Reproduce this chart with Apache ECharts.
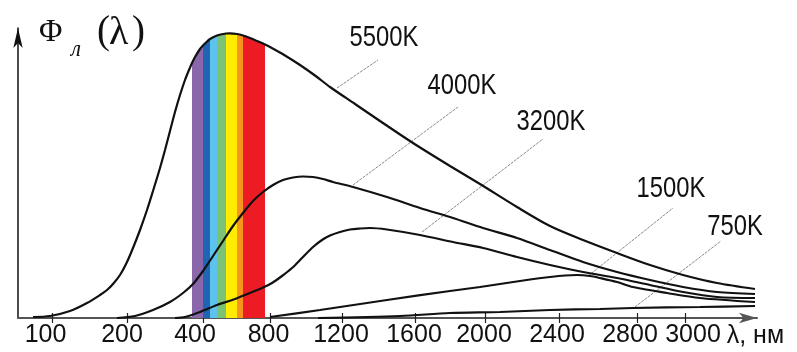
<!DOCTYPE html>
<html><head><meta charset="utf-8">
<script src="https://cdn.jsdelivr.net/npm/echarts@6/dist/echarts.min.js"></script>
<style>html,body{margin:0;padding:0;background:#fff}#c{width:797px;height:352px}</style>
</head><body><div id="c"></div>
<script>
// x axis is a schematic (non-linear) wavelength axis: values are positions along it
const tickLabels = ['100','200','400','800','1200','1600','2000','2400','2800','3000'];
const tickPos = [34,109,185,252,324,397,467,541,619,667];
const labelPos = [27.5,104,177,250.5,323,396,466,539,612,675];

const curve5500 = [[15,1],[32,2],[52,7],[69,15],[82,23],[89,28],[95,34],[102,43],[109,56],[115,70],[122,88],[129,108],[135,127],[142,150],[147,168],[152,187],[157,206],[162,223],[167,238],[171,248],[174,255],[177,261],[182,269],[185,272.5],[188,275.5],[192,279],[199,282.5],[208,284.5],[212,284.7],[219,284],[225,282.5],[232,280],[239,277],[247,273.5],[252,271],[267,262.5],[282,253],[297,242.5],[312,231],[337,214],[362,197],[395,175],[432,152],[462,134],[499,111],[532,92],[565,78],[599,65],[632,53],[665,43],[699,35],[737,29]];
const curve4000 = [[99,0],[117,2],[135,8],[152,16],[165,25],[175,34],[185,47],[195,62],[205,77],[215,92],[225,105],[235,117],[245,126],[255,133],[265,138],[275,140.5],[285,141.5],[295,141],[305,139],[315,136],[335,131],[369,121],[402,110],[435,100],[465,90],[499,80],[532,68],[565,56],[599,46],[632,38],[665,31],[699,26],[737,24]];
const curve3200 = [[157,0],[167,1],[182,6],[199,13],[217,19],[232,25],[244,30],[254,35],[264,42],[274,50],[284,60],[295,71],[304,78],[312,82.5],[322,86],[332,88.5],[342,89.5],[352,90],[369,88.5],[402,83],[435,76],[465,70],[499,61],[532,53],[565,46],[599,40],[632,33],[665,26],[699,21],[737,20]];
const curve1500 = [[252,1],[302,8],[369,18],[432,27],[462,31],[482,34],[512,38.5],[532,41],[547,42.5],[559,43],[572,42],[582,40],[599,36],[615,31],[649,25],[682,20],[737,16]];
const curve750 = [[300,0],[382,2],[432,5],[482,6],[532,8],[582,9],[615,10],[682,11],[737,12]];

const curveNames = ['5500K','4000K','3200K','1500K','750K'];
const leaderFrom = [[319,230],[335,133],[404,86],[570,42],[617,11]];
const leaderTo = [[360,258],[440,211],[525,179],[655,110],[703,77]];
const labelAt = [[366,280],[444,232],[533,196],[653,129],[717,91]];

const bandFrom = [174,185,192,199,208,219,225];
const bandTo = [185,192,199,208,219,225,247];
const bandColors = ['#8a67ab','#2064b3','#5cc4ec','#7bc274','#ffec00','#f7941d','#ed1c24'];

const sans = "'Liberation Sans',Arial,sans-serif";
const serif = "'Liberation Serif','DejaVu Serif',serif";

const chart = echarts.init(document.getElementById('c'), null, {renderer:'canvas'});

const series = [];
bandColors.forEach((col, i) => {
  series.push({
    type:'line', data: curve5500.filter(p => p[0] >= bandFrom[i] && p[0] <= bandTo[i]),
    symbol:'none', smooth:false, lineStyle:{width:0}, areaStyle:{color:col, opacity:1},
    z:2, silent:true
  });
});
[curve5500, curve4000, curve3200, curve1500, curve750].forEach(d => {
  series.push({type:'line', data:d, symbol:'none', smooth:0.3,
    lineStyle:{color:'#111', width:2.2}, z:5, silent:true});
});
series.push({
  type:'lines', coordinateSystem:'cartesian2d', z:4, silent:true,
  lineStyle:{color:'#8a8a8a', width:1, type:[3,1], opacity:1},
  data: leaderFrom.map((p,i) => ({coords:[p, leaderTo[i]]}))
});

chart.setOption({
  animation:false,
  backgroundColor:'#fff',
  grid:{left:18, top:28, width:739, height:290, containLabel:false},
  xAxis:[{
    type:'value', min:0, max:739,
    axisLine:{show:true, lineStyle:{color:'#555', width:2}, symbol:['none','arrow'], symbolSize:[8,18]},
    axisTick:{show:true, customValues:tickPos, length:5, lineStyle:{color:'#222', width:1.2}},
    axisLabel:{show:true, customValues:labelPos, margin:5,
      formatter: v => { const i = labelPos.indexOf(v); return i >= 0 ? tickLabels[i] : ''; },
      fontFamily:sans, fontSize:25, color:'#111'},
    splitLine:{show:false},
    name:'λ, нм', nameLocation:'end', nameGap:-40,
    nameTextStyle:{fontFamily:sans, fontSize:25, color:'#111', align:'left', verticalAlign:'top', padding:[6,0,0,0]}
  },{
    type:'value', min:0, max:739, position:'bottom',
    axisLine:{show:false},
    axisTick:{show:true, inside:true, customValues:tickPos, length:5, lineStyle:{color:'#222', width:1.2}},
    axisLabel:{show:false}, splitLine:{show:false}
  }],
  yAxis:{
    type:'value', min:0, max:290,
    axisLine:{show:true, lineStyle:{color:'#111', width:1.5}, symbol:['none','arrow'], symbolSize:[7,20]},
    axisTick:{show:false}, axisLabel:{show:false}, splitLine:{show:false}
  },
  series: series
});

// axis title and curve labels; curve labels placed through the chart's own coordinate conversion
const graphics = [
  {type:'text', left:39, top:17, style:{text:'Φ', font:'32px '+serif, fill:'#111'}},
  {type:'text', left:71, top:38, style:{text:'л', font:'italic 23px '+serif, fill:'#111'}},
  {type:'text', left:97, top:13, style:{text:'(', font:'39px '+serif, fill:'#111'}},
  {type:'text', left:109, top:13, style:{text:'λ', font:'40px '+serif, fill:'#111'}},
  {type:'text', left:132, top:13, style:{text:')', font:'39px '+serif, fill:'#111'}}
];
labelAt.forEach((p, i) => {
  const px = chart.convertToPixel({gridIndex:0}, p);
  graphics.push({type:'text', x:px[0], y:px[1], scaleX:0.82, z:10,
    style:{text:curveNames[i], font:'29px '+sans, fill:'#111', align:'center', verticalAlign:'middle'}});
});
chart.setOption({graphic: graphics});
</script></body></html>
